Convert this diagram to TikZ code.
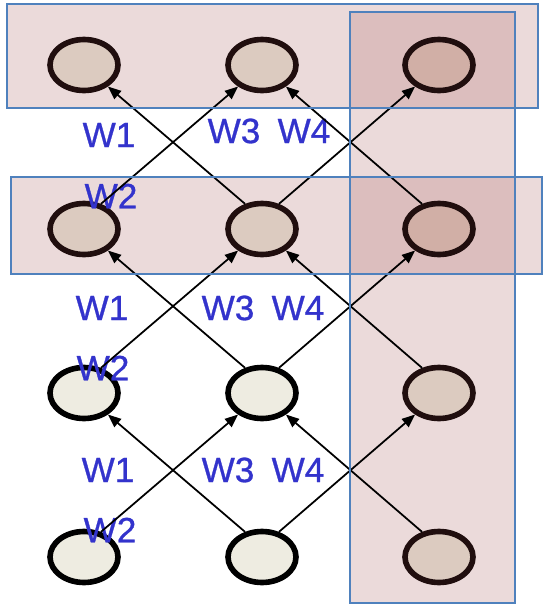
\documentclass[tikz,border=0pt]{standalone}
\usepackage{fontspec}
\setmainfont{Liberation Sans}
\newfontfamily\pesofont[FakeBold=0.8]{Liberation Sans}
\usetikzlibrary{shapes.geometric,arrows.meta}

\definecolor{fondo}{RGB}{238,236,225}
\definecolor{fondoa}{RGB}{220,203,192}
\definecolor{fondob}{RGB}{209,175,166}
\definecolor{rosa}{RGB}{175,107,107}
\definecolor{bordo}{RGB}{79,129,189}
\definecolor{blupeso}{RGB}{51,51,204}
\definecolor{scuro}{RGB}{32,14,14}

\tikzset{
	neur/.style={ellipse,draw,line width=3.2pt,fill=fondo,minimum width=1.36cm,minimum height=1.02cm,inner sep=0pt},
	neura/.style={neur,fill=fondoa,draw=scuro},
	neurb/.style={neur,fill=fondob,draw=scuro},
	link/.style={-{Triangle[length=7.5pt,width=6pt]},line width=1pt},
	peso/.style={text=blupeso,font=\pesofont\fontsize{20}{24}\selectfont,inner sep=0pt},
	banda/.style={fill=rosa,fill opacity=0.25},
	bandabordo/.style={draw=bordo,line width=1.4pt}
}

\begin{document}
\begin{tikzpicture}[x=0.02cm,y=-0.02cm]
	\useasboundingbox (0,0) rectangle (550,616);
	% bande
	\fill[banda] (7,4) rectangle (538,108);
	\fill[banda] (11,177) rectangle (542,274);
	\fill[banda] (350,12) rectangle (515,603);
	% neuroni: righe dall'alto, colonne da sinistra
	\foreach \r/\y/\st in {1/65/neura,2/229/neura,3/393/neur,4/557/neur}{
		\node[\st] (n\r1) at (84,\y) {};
		\node[\st] (n\r2) at (262,\y) {};
	}
	\node[neurb] (n13) at (439,65) {};
	\node[neurb] (n23) at (439,229) {};
	\node[neura] (n33) at (439,393) {};
	\node[neura] (n43) at (439,557) {};
	% pesi
	\node[peso] (wa1) at (109,135) {W1};
	\node[peso] (wa2) at (111,196) {W2};
	\node[peso] (wa3) at (234,131) {W3};
	\node[peso] (wa4) at (304,131) {W4};
	\node[peso] (wb1) at (102,308) {W1};
	\node[peso] (wb2) at (103,368) {W2};
	\node[peso] (wb3) at (228,308) {W3};
	\node[peso] (wb4) at (298,308) {W4};
	\node[peso] (wc1) at (108,470) {W1};
	\node[peso] (wc2) at (110,530) {W2};
	\node[peso] (wc3) at (228,470) {W3};
	\node[peso] (wc4) at (298,470) {W4};
	% collegamenti verso la riga sopra
	\foreach \r/\s in {2/1,3/2,4/3}{
		\draw[link] (n\r1.56) -- (n\s2.222);
		\draw[link] (n\r2.124) -- (n\s1.318);
		\draw[link] (n\r2.56) -- (n\s3.222);
		\draw[link] (n\r3.124) -- (n\s2.318);
	}
	% bordi delle bande
	\draw[bandabordo] (7,4) rectangle (538,108);
	\draw[bandabordo] (11,177) rectangle (542,274);
	\draw[bandabordo] (350,12) rectangle (515,603);
\end{tikzpicture}
\end{document}
